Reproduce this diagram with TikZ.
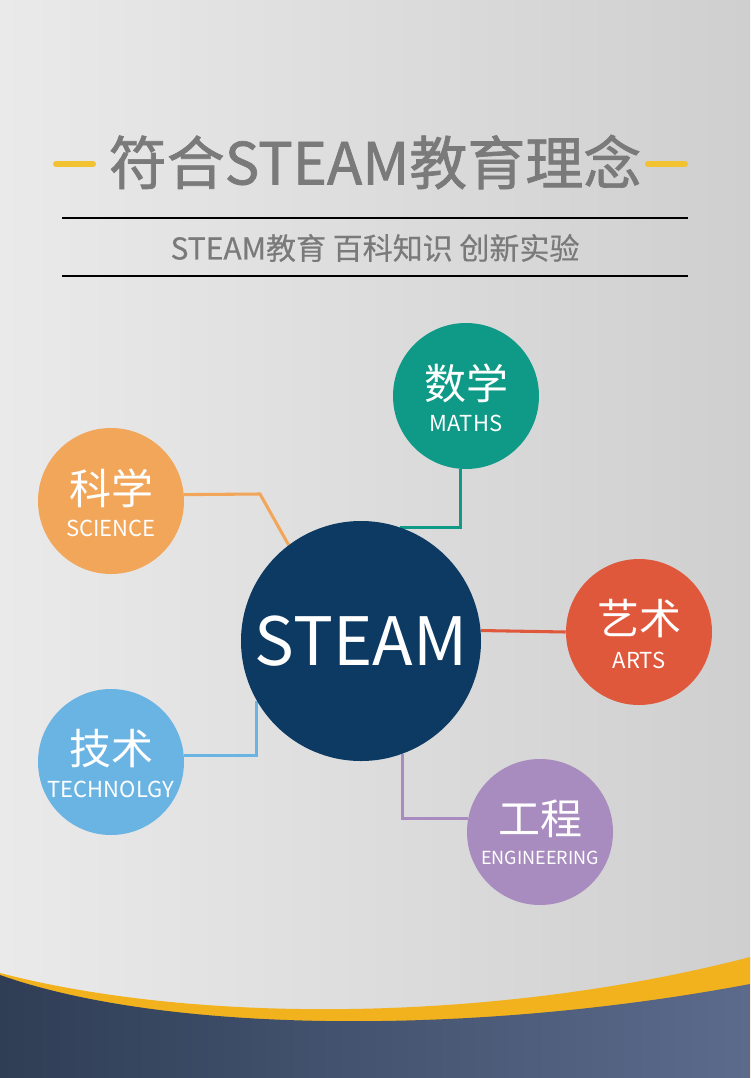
\documentclass[tikz,border=0pt]{standalone}
\usepackage{fontspec}
\setmainfont{Noto Sans CJK SC}
\newfontfamily\titlefont[FakeBold=1.2]{Noto Sans CJK SC}
\newfontfamily\subfont[FakeBold=0.4]{Noto Sans CJK SC}
\usetikzlibrary{backgrounds}
\definecolor{bgl}{HTML}{EAEAEA}
\definecolor{bgr}{HTML}{CFCFCF}
\definecolor{titlegray}{HTML}{7A7A7A}
\definecolor{dashyellow}{HTML}{F2C230}
\definecolor{waveyellow}{HTML}{F2B21E}
\definecolor{wavedark}{HTML}{2F3E55}
\definecolor{wavelight}{HTML}{5C6B8C}
\definecolor{steamblue}{HTML}{0D3A63}
\definecolor{mathteal}{HTML}{0E9A87}
\definecolor{sciorange}{HTML}{F2A65A}
\definecolor{artsred}{HTML}{E0583B}
\definecolor{techblue}{HTML}{6AB4E4}
\definecolor{engpurple}{HTML}{A98CBF}
\tikzset{
  ball/.style={circle, minimum size=109.5pt, inner sep=0pt, text=white, align=center},
  bigball/.style={circle, minimum size=180pt, inner sep=0pt, fill=steamblue, text=white},
  link/.style={line width=2.3pt},
  cjkbig/.style={font=\fontsize{31.5}{31.5}\selectfont, text=white},
  latinsmall/.style={font=\fontsize{16.5}{16.5}\selectfont, text=white},
  rule/.style={line width=0.8pt, black},
  ydash/.style={line width=4.5pt, dashyellow, line cap=round},
}
\begin{document}
\begin{tikzpicture}[x=0.75pt, y=-0.75pt]
\useasboundingbox (0,0) rectangle (750,1078);
% background
\begin{pgfonlayer}{background}
\shade[left color=bgl, right color=bgr] (0,0) rectangle (750,1078);
\fill[waveyellow] (0,973) .. controls (200,1025) and (500,1022) .. (750,957) -- (750,1078) -- (0,1078) -- cycle;
\shade[left color=wavedark, middle color=wavedark, right color=wavelight] (0,975) .. controls (170,1035) and (480,1035) .. (750,984) -- (750,1078) -- (0,1078) -- cycle;
\end{pgfonlayer}
% title
\node[text=titlegray, font=\titlefont\fontsize{43.5}{43.5}\selectfont] (title) at (375,162) {符合STEAM教育理念};
\coordinate (dl1) at (56,164); \coordinate (dl2) at (93,164);
\coordinate (dr1) at (648,164); \coordinate (dr2) at (685,164);
\draw[ydash] (dl1) -- (dl2);
\draw[ydash] (dr1) -- (dr2);
\coordinate (r1a) at (62,218); \coordinate (r1b) at (688,218);
\coordinate (r2a) at (62,276); \coordinate (r2b) at (688,276);
\draw[rule] (r1a) -- (r1b);
\draw[rule] (r2a) -- (r2b);
\node[text=titlegray, font=\subfont\fontsize{22.5}{22.5}\selectfont] (subtitle) at (375,248) {STEAM教育 百科知识 创新实验};
% circles
\node[bigball, font=\fontsize{50}{50}\selectfont] (steam) at (361,641) {STEAM};
\node[ball, fill=mathteal] (maths) at (466,396) {};
\node[ball, fill=sciorange] (sci) at (111,501) {};
\node[ball, fill=artsred] (arts) at (639,632) {};
\node[ball, fill=techblue] (tech) at (111,762) {};
\node[ball, fill=engpurple] (eng) at (540,832) {};
% labels
\node[cjkbig] (mathsA) at (466,383) {数学};
\node[latinsmall] (mathsB) at (466,423) {MATHS};
\node[cjkbig] (sciA) at (111,488) {科学};
\node[latinsmall] (sciB) at (111,528) {SCIENCE};
\node[cjkbig] (artsA) at (639,619) {艺术};
\node[latinsmall] (artsB) at (639,660) {ARTS};
\node[cjkbig] (techA) at (111,749) {技术};
\node[latinsmall] (techB) at (111,789) {TECHNOLGY};
\node[cjkbig] (engA) at (540,819) {工程};
\node[latinsmall, font=\fontsize{13.5}{13.5}\selectfont] (engB) at (540,858) {ENGINEERING};
% connectors
\coordinate (b1) at (260,494);
\begin{pgfonlayer}{background}
\draw[link, sciorange] (sci.5) -- (b1) -- (steam.127);
\draw[link, mathteal] (maths.-94) |- (steam.71);
\draw[link, artsred] (steam.5) -- (arts.west);
\draw[link, techblue] (tech.5) -| (steam.210);
\draw[link, engpurple] (steam.-70) |- (eng.169);
\end{pgfonlayer}
\end{tikzpicture}
\end{document}
